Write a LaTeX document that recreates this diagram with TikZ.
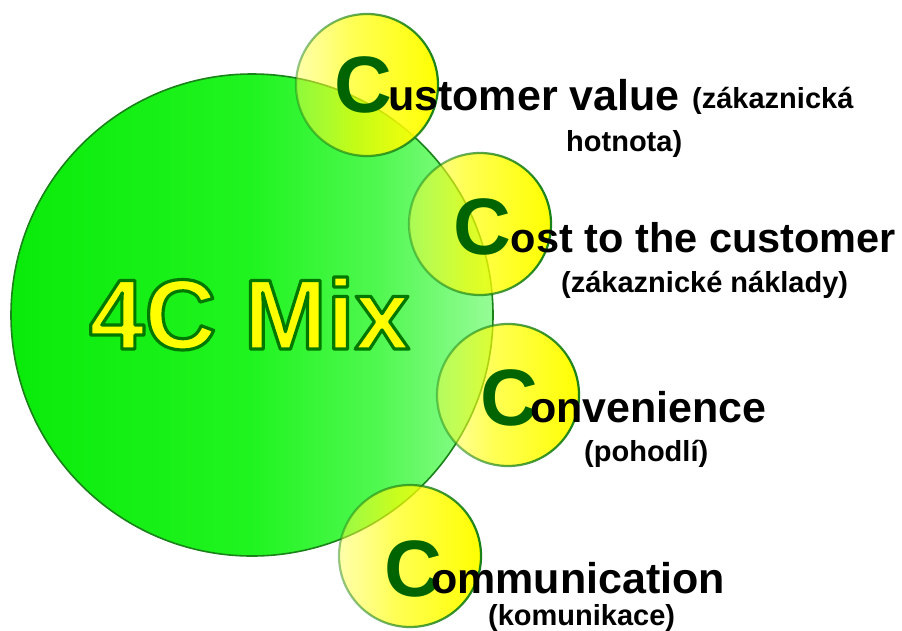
\documentclass[tikz,border=0pt]{standalone}
\usepackage{fontspec}
\setmainfont{Liberation Sans}
\usetikzlibrary{fadings}

\definecolor{mixgreenA}{RGB}{10,235,10}
\definecolor{mixgreenB}{RGB}{32,244,32}
\definecolor{mixgreenC}{RGB}{80,248,80}
\definecolor{mixgreenD}{RGB}{150,252,150}
\definecolor{rimgreen}{RGB}{25,130,25}
\definecolor{cgreen}{RGB}{0,100,0}
\definecolor{bubbleyellow}{RGB}{255,255,0}
\definecolor{paleyellow}{RGB}{255,255,70}
\definecolor{mixyellow}{RGB}{255,255,0}

% disc shading: saturated green, lightening towards the right rim
\pgfdeclarehorizontalshading{mixshade}{100bp}{color(0bp)=(mixgreenA); color(25bp)=(mixgreenA);
  color(50bp)=(mixgreenB); color(63bp)=(mixgreenC); color(75bp)=(mixgreenD); color(100bp)=(mixgreenD)}
% bubble shading: pale on the left, full yellow on the right
\pgfdeclarehorizontalshading{bubbleshade}{100bp}{color(0bp)=(paleyellow); color(25bp)=(paleyellow);
  color(45bp)=(bubbleyellow); color(100bp)=(bubbleyellow)}
\tikzfading[name=bubblefade, left color=transparent!55, right color=transparent!0]

% title font: bold face, filled and stroked
\font\mixfont="Liberation Sans/B:embolden=3.2" at 99.5pt
% big green initial, shifted down by #1 and kerned by #2
\newcommand\initial[2]{\raisebox{#1}{\fontsize{80}{80}\selectfont\bfseries\color{cgreen}C}\kern#2}

\tikzset{
  mixdisc/.style={circle, inner sep=0pt, minimum size=482pt, shading=mixshade,
    draw=rimgreen, line width=1.6pt},
  bubble/.style={circle, inner sep=0pt, minimum size=142pt, shading=bubbleshade,
    path fading=bubblefade, draw=rimgreen, line width=2.2pt},
  mixtext/.style={font=\mixfont, inner sep=0pt, anchor=base west},
  headline/.style={font=\fontsize{43}{43}\selectfont\bfseries, inner sep=0pt, anchor=base west},
  subline/.style={font=\fontsize{29}{29}\selectfont\bfseries, inner sep=0pt, anchor=base west},
}

\begin{document}
\begin{tikzpicture}[x=1pt, y=-1pt]
  \useasboundingbox (0,0) rectangle (902,630);
  \fill[white] (0,0) rectangle (902,630);

  % main disc
  \node[mixdisc] (mix) at (252,315) {};

  % title: yellow fill, green stroke with round joins
  \node[mixtext, text=mixyellow] (mixtitle) at (89,349)
    {\special{pdf:code 0 0.47 0 RG 1 j 1 J}4C Mix};

  % the four bubbles
  \node[bubble] (b1) at (367,85) {};
  \node[bubble] (b2) at (480,224) {};
  \node[bubble] (b3) at (508,395) {};
  \node[bubble] (b4) at (410,556) {};

  % customer value
  \node[headline] (h1) at (334,110) {\initial{-2pt}{-3.8pt}ustomer value};
  \node[subline] (s1a) at (692,108) {(zákaznická};
  \node[subline] (s1b) at (566,151) {hotnota)};

  % cost to the customer
  \node[headline, font=\fontsize{41.5}{41.5}\selectfont\bfseries] (h2) at (453,252)
    {\initial{-2pt}{0pt}ost to the customer};
  \node[subline] (s2) at (561,292) {(zákaznické náklady)};

  % convenience
  \node[headline] (h3) at (480,422) {\initial{-3pt}{-7.8pt}onvenience};
  \node[subline] (s3) at (584,461) {(pohodlí)};

  % communication
  \node[headline] (h4) at (384,593) {\initial{-3pt}{-10.8pt}ommunication};
  \node[subline] (s4) at (488,625) {(komunikace)};
\end{tikzpicture}
\end{document}
